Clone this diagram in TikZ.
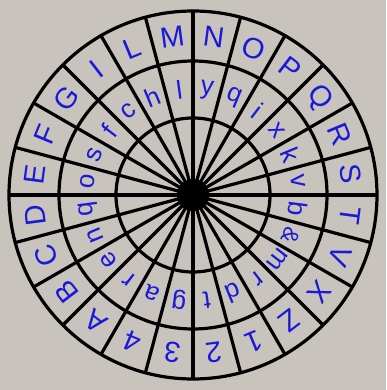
\documentclass[tikz,border=0pt]{standalone}
\usepackage{fontspec}
\setmainfont{Liberation Sans}
\usepackage{tikz}
\definecolor{disk}{RGB}{201,195,190}
\definecolor{ink}{RGB}{25,25,215}

\tikzset{
  outer/.style={text=ink, font=\fontsize{29}{29}\selectfont, inner sep=0pt},
  inner/.style={text=ink, font=\fontsize{26}{26}\selectfont, inner sep=0pt}
}

\begin{document}
\begin{tikzpicture}[x=1pt, y=1pt, line width=3.2pt]
  \useasboundingbox[fill=disk] (-193,-195) rectangle (193,195);
  % the three rings
  \draw (0,0) circle (184);
  \draw (0,0) circle (134);
  \draw (0,0) circle (77);
  % 24 spokes, hub in the middle
  \foreach \a in {0,15,...,345}
    \draw (0,0) -- (\a:184);
  \fill (0,0) circle (16);
  % outer ring, tops pointing outward
  \foreach \t [count=\i from 0] in {N,O,P,Q,R,S,T,V,X,Z,1,2,3,4,A,B,C,D,E,F,G,I,L,M} {
    \pgfmathsetmacro{\ang}{82.5-15*\i}
    \node[outer, rotate=\ang-90] (out-\i) at (\ang:159) {\t};
  }
  % inner ring
  \foreach \t [count=\i from 0] in {y,q,i,x,k,v,b,{\fontsize{23}{23}\selectfont\&},m,r,d,t,g,a,r,e,n,q,o,s,f,c,h,l} {
    \pgfmathsetmacro{\ang}{82.5-15*\i}
    \node[inner, rotate=\ang-90] (in-\i) at (\ang:106) {\t};
  }
\end{tikzpicture}
\end{document}
